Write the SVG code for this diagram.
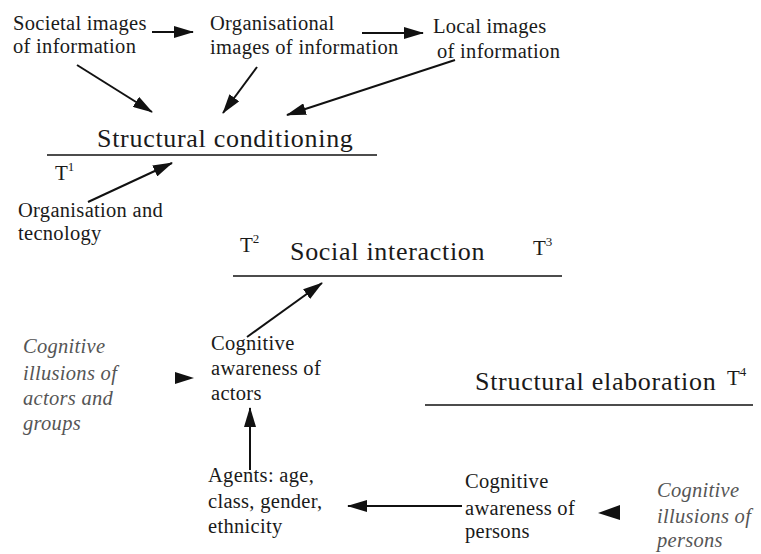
<svg xmlns="http://www.w3.org/2000/svg" width="761" height="554" viewBox="0 0 761 554" font-family="Liberation Serif, DejaVu Serif, serif">
<style>
text{font-family:"Liberation Serif","DejaVu Serif",serif;fill:#1a1a1a}
.s{font-size:20.5px;letter-spacing:0.3px}
.b{font-size:26px;letter-spacing:0.7px}
.i{font-size:20.5px;font-style:italic;fill:#555;letter-spacing:0.3px}
.t{font-size:21px}
.sup{font-size:13px}
.c line{stroke:#111;stroke-width:2}
.r{stroke:#111;stroke-width:1.6}
.h{fill:#111}
</style>
<defs>
<marker id="a" markerUnits="userSpaceOnUse" markerWidth="20" markerHeight="12" refX="19" refY="6" orient="auto">
<path d="M0,0 L20,6 L0,12 z" fill="#111"/>
</marker>
</defs>
<g id="societal"><text class="s" x="13" y="30">Societal images</text><text class="s" x="13" y="53">of information</text></g>
<g id="organisational"><text class="s" x="210" y="30">Organisational</text><text class="s" x="210" y="54">images of information</text></g>
<g id="local"><text class="s" x="433" y="33">Local images</text><text class="s" x="437" y="58">of information</text></g>
<g id="structural-conditioning"><text class="b" x="97" y="147">Structural conditioning</text><line class="r" x1="47" y1="155" x2="377" y2="155"/><text class="t" x="55" y="180">T<tspan class="sup" dy="-9">1</tspan></text></g>
<g id="organisation-technology"><text class="s" x="18" y="217">Organisation and</text><text class="s" x="18" y="240">tecnology</text></g>
<g id="social-interaction"><text class="t" x="240" y="252">T<tspan class="sup" dy="-9">2</tspan></text><text class="b" x="290" y="260">Social interaction</text><text class="t" x="533" y="255">T<tspan class="sup" dy="-9">3</tspan></text><line class="r" x1="233" y1="276" x2="562" y2="276"/></g>
<g id="illusions-actors"><text class="i" x="23" y="353">Cognitive</text><text class="i" x="23" y="380">illusions of</text><text class="i" x="23" y="405">actors and</text><text class="i" x="23" y="430">groups</text></g>
<g id="awareness-actors"><text class="s" x="211" y="350">Cognitive</text><text class="s" x="211" y="375">awareness of</text><text class="s" x="211" y="400">actors</text></g>
<g id="structural-elaboration"><text class="b" x="475" y="390">Structural elaboration</text><text class="t" x="727" y="385">T<tspan class="sup" dy="-9">4</tspan></text><line class="r" x1="425" y1="405" x2="753" y2="405"/></g>
<g id="agents"><text class="s" x="208" y="482">Agents: age,</text><text class="s" x="208" y="508">class, gender,</text><text class="s" x="208" y="533">ethnicity</text></g>
<g id="awareness-persons"><text class="s" x="465" y="488">Cognitive</text><text class="s" x="465" y="515">awareness of</text><text class="s" x="465" y="538">persons</text></g>
<g id="illusions-persons"><text class="i" x="657" y="497">Cognitive</text><text class="i" x="657" y="523">illusions of</text><text class="i" x="657" y="547">persons</text></g>
<g id="connectors" class="c">
<line x1="152" y1="32" x2="193" y2="32" marker-end="url(#a)"/>
<line x1="362" y1="33" x2="423" y2="33" marker-end="url(#a)"/>
<line x1="77" y1="65" x2="152" y2="112" marker-end="url(#a)"/>
<line x1="257" y1="67" x2="223" y2="113" marker-end="url(#a)"/>
<line x1="455" y1="60" x2="287" y2="115" marker-end="url(#a)"/>
<line x1="88" y1="202" x2="172" y2="163" marker-end="url(#a)"/>
<line x1="247" y1="337" x2="322" y2="283" marker-end="url(#a)"/>
<line x1="250" y1="470" x2="250" y2="408" marker-end="url(#a)"/>
<line x1="462" y1="506" x2="348" y2="506" marker-end="url(#a)"/>
<path class="h" d="M175,372 L194,378 L175,384 z"/>
<path class="h" d="M598,513 L620,505 L620,520 z"/>
</g>
</svg>
